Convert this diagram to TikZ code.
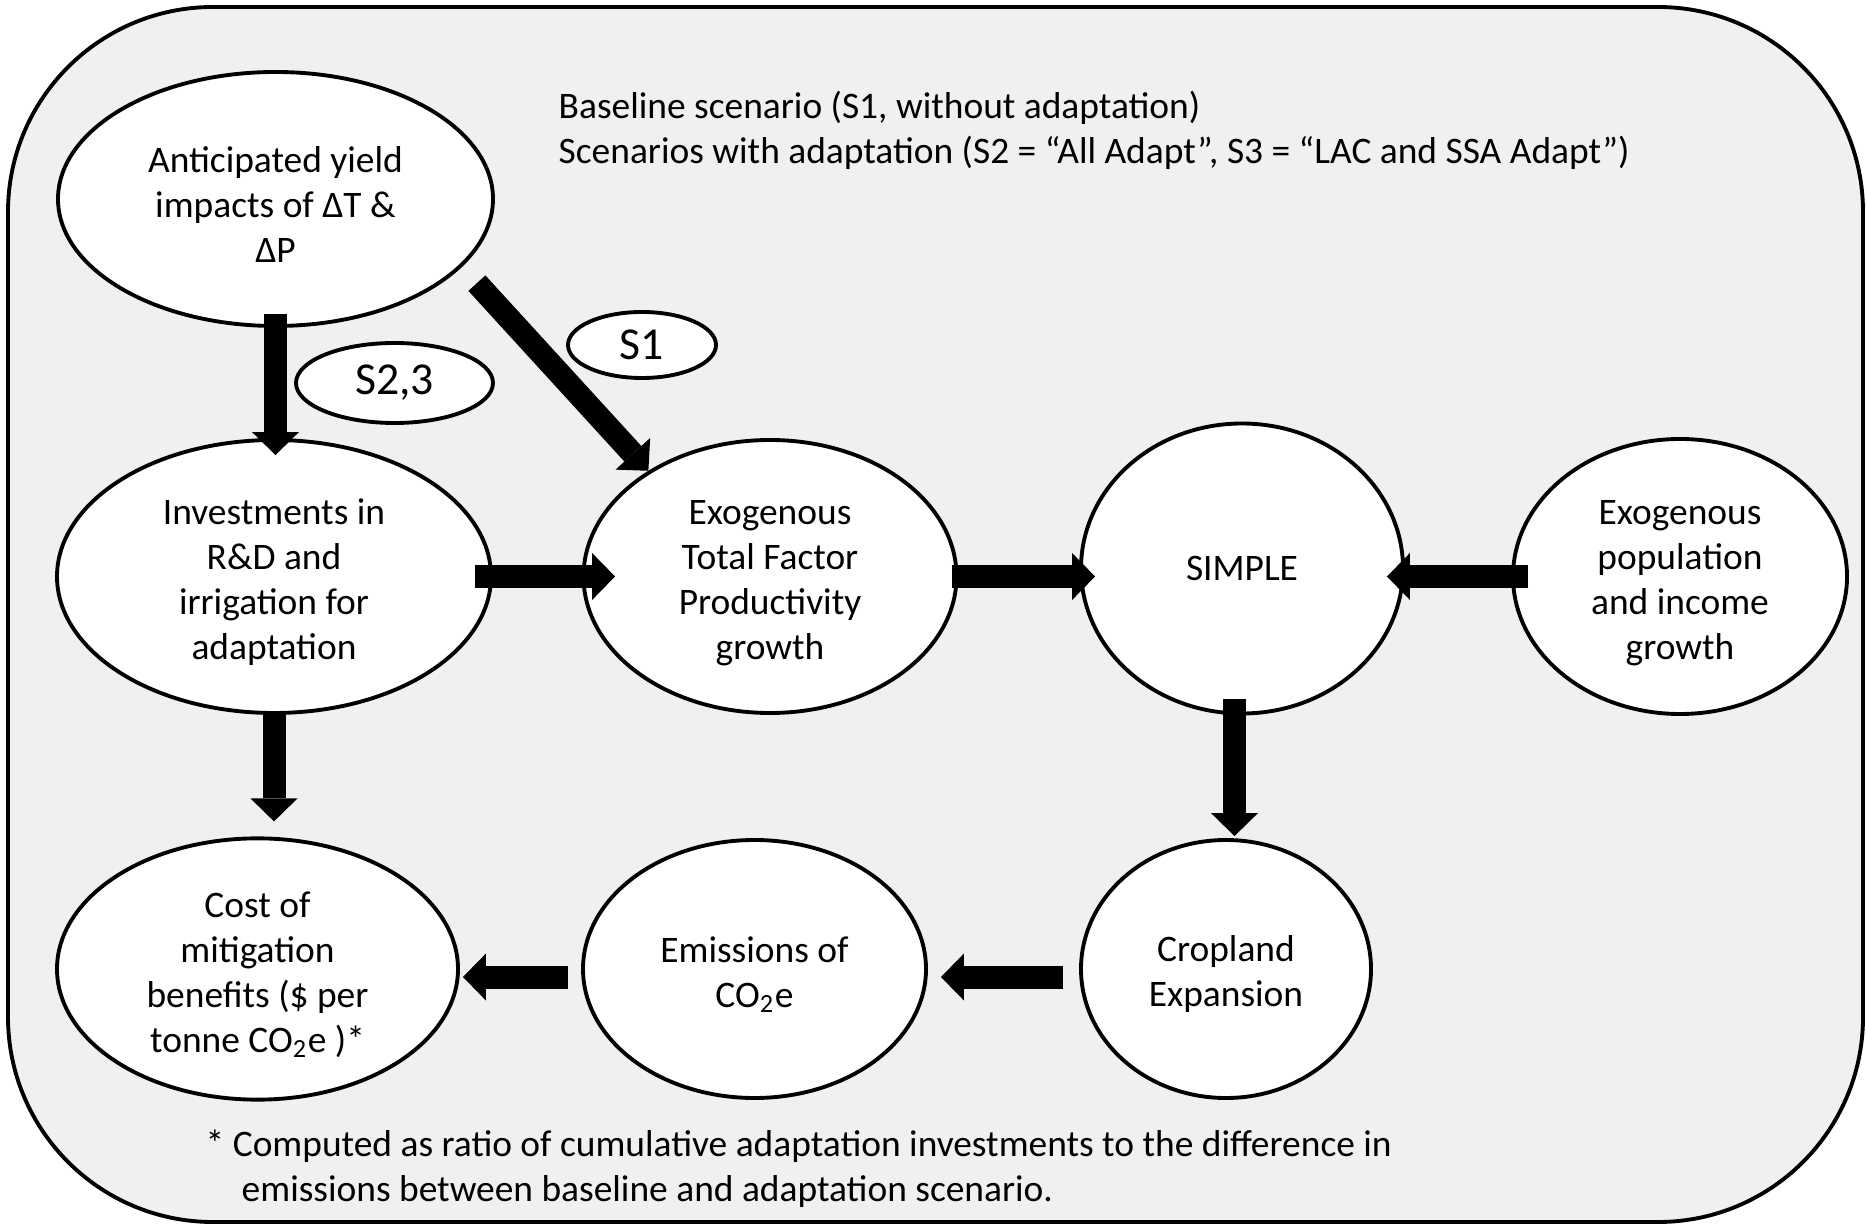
\documentclass[tikz,border=0pt]{standalone}
\usepackage{fontspec}
\setmainfont{Carlito}
\usepackage{xcolor}
\usepackage{tikz}
\usetikzlibrary{shapes.geometric, arrows.meta}
\definecolor{panelGray}{HTML}{F0F0F0}
\newcommand{\nodelift}{\rule{0pt}{0.37cm}}

\begin{document}
\begin{tikzpicture}[
    stage/.style={draw, ellipse, fill=white, line width=1.1pt, inner sep=1pt,
                  align=center, font=\fontsize{10.65pt}{12.8pt}\selectfont},
    tag/.style={draw, ellipse, fill=white, line width=1.1pt, inner sep=0pt,
                font=\fontsize{13pt}{15pt}\selectfont},
    note/.style={align=left, inner sep=0pt,
                 font=\fontsize{10.65pt}{12.8pt}\selectfont},
    arrow/.style={-{Triangle[width=0.47cm, length=0.23cm, line width=0pt]},
                  line width=0.23cm},
]
\useasboundingbox (0,0) rectangle (18.66,12.24);

% Frame
\draw[line width=1.1pt, fill=panelGray, rounded corners=2.05cm]
    (0.08,0.02) rectangle (18.63,12.17);

% Legend
\node[note, anchor=west] (legend) at (5.58,10.94)
    {Baseline scenario (S1, without adaptation)\\
     Scenarios with adaptation (S2 = “All Adapt”, S3 = “LAC and SSA Adapt”)};

% Top row
\node[stage, minimum width=4.35cm, minimum height=2.54cm]
    (ant) at (2.755,10.25) {\nodelift Anticipated yield\\impacts of ΔT \&\\ΔP};

% Middle row
\node[stage, minimum width=4.34cm, minimum height=2.73cm]
    (inv) at (2.74,6.475) {\nodelift Investments in\\R\&D and\\irrigation for\\adaptation};
\node[stage, minimum width=3.73cm, minimum height=2.73cm]
    (tfp) at (7.70,6.475) {\nodelift Exogenous\\Total Factor\\Productivity\\growth};
\node[stage, minimum width=3.22cm, minimum height=2.90cm]
    (simple) at (12.42,6.555) {SIMPLE};
\node[stage, minimum width=3.34cm, minimum height=2.75cm]
    (pop) at (16.80,6.475) {\nodelift Exogenous\\population\\and income\\growth};

% Bottom row
\node[stage, minimum width=4.01cm, minimum height=2.58cm]
    (cost) at (2.575,2.55) {\nodelift Cost of\\mitigation\\benefits (\$ per\\tonne CO\textsubscript{2}e )*};
\node[stage, minimum width=3.43cm, minimum height=2.58cm]
    (emis) at (7.545,2.55) {\nodelift Emissions of\\CO\textsubscript{2}e};
\node[stage, minimum width=2.90cm, minimum height=2.58cm]
    (crop) at (12.26,2.55) {\nodelift Cropland\\Expansion};

% Scenario tags
\node[tag, minimum width=1.97cm, minimum height=0.80cm] (s23) at (3.945,8.41) {S2,3};
\node[tag, minimum width=1.48cm, minimum height=0.66cm] (s1) at (6.42,8.79) {S1};

% Flows
\draw[arrow, shorten <=-0.14cm, shorten >=-0.17cm] (ant.south) -- (ant.south |- inv.north);
\draw[arrow, shorten <=0.22cm] (ant.-20) -- (tfp.139);
\draw[arrow, shorten <=-0.18cm, shorten >=-0.335cm] (inv) -- (tfp);
\draw[arrow, shorten <=-0.065cm, shorten >=-0.16cm] (tfp.east) -- (tfp.east -| simple.west);
\draw[arrow, shorten <=-0.17cm, shorten >=-0.18cm] (pop.west) -- (pop.west -| simple.east);
\draw[arrow, shorten >=0.15cm] (inv.south) -- (inv.south |- cost.north);
\coordinate (drop) at ([xshift=-0.075cm]simple.south);
\draw[arrow, shorten <=-0.165cm, shorten >=0.02cm] (drop) -- (drop |- crop.north);
\draw[arrow, shorten <=0.16cm, shorten >=0.13cm]
    ([yshift=-0.08cm]crop.west) -- ([yshift=-0.08cm]emis.east);
\draw[arrow, shorten <=0.13cm, shorten >=0.03cm]
    ([yshift=-0.08cm]emis.west) -- ([yshift=-0.08cm]cost.east);

% Footnote
\node[note, anchor=west] (foot) at (2.05,0.55)
    {* Computed as ratio of cumulative adaptation investments to the difference in\\
     \hspace*{0.36cm}emissions between baseline and adaptation scenario.};
\end{tikzpicture}
\end{document}
